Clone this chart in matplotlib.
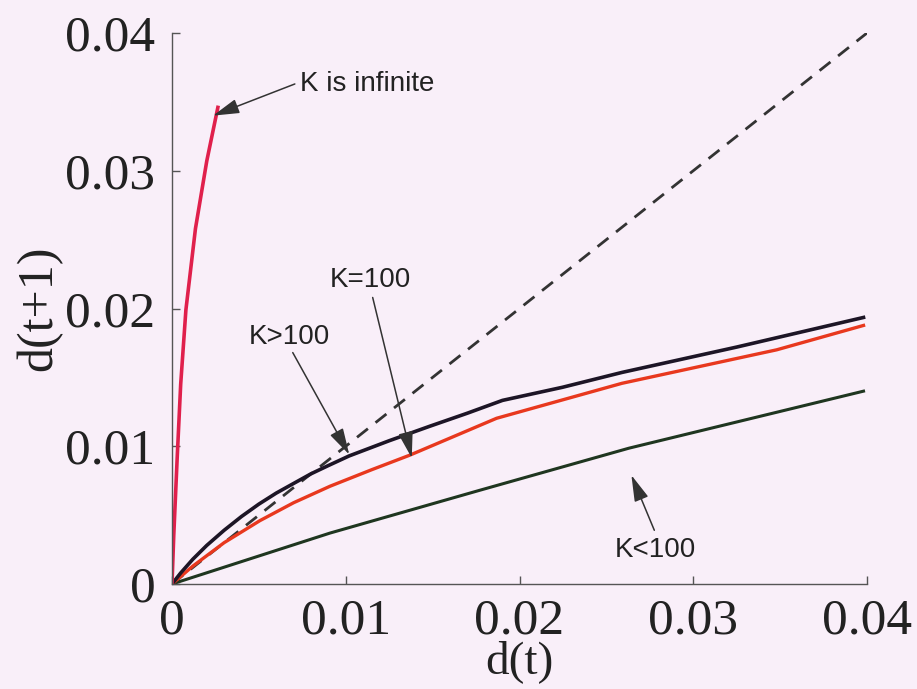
import matplotlib
matplotlib.use("Agg")
import matplotlib.pyplot as plt

# curves (d(t) -> d(t+1))
k_inf_x = [0, 0.0001, 0.0003, 0.0005, 0.0008, 0.00135, 0.002, 0.00264]
k_inf_y = [0, 0.0035, 0.0092, 0.0145, 0.0199, 0.0258, 0.0307, 0.0346]

k_gt_x = [0, 0.0005, 0.0012, 0.002, 0.003, 0.004, 0.005, 0.006, 0.007, 0.008, 0.009,
          0.0102, 0.0125, 0.01483, 0.0170, 0.01902, 0.02247, 0.0259, 0.0325, 0.0398]
k_gt_y = [0, 0.0008, 0.0018, 0.0028, 0.0039, 0.0049, 0.0058, 0.0066, 0.0073, 0.0080, 0.0086,
          0.0093, 0.0104, 0.01145, 0.0124, 0.01333, 0.01428, 0.01536, 0.0172, 0.01935]

k_eq_x = [0, 0.0012, 0.003, 0.00506, 0.007, 0.0091, 0.0115, 0.01368, 0.0162, 0.01868, 0.0259, 0.0348, 0.0398]
k_eq_y = [0, 0.0013, 0.0030, 0.0046, 0.0059, 0.00710, 0.0083, 0.00935, 0.0107, 0.01203, 0.01457, 0.0170, 0.01877]

k_lt_x = [0, 0.0091, 0.0177, 0.0263, 0.0398]
k_lt_y = [0, 0.0037, 0.0068, 0.00986, 0.0140]

diag = [0, 0.04]

ticks = [0, 0.01, 0.02, 0.03, 0.04]
tick_labels = ["0", "0.01", "0.02", "0.03", "0.04"]

# label text, text position, arrow tail, arrow head
labels = [
    ("K is infinite", (0.00736, 0.0363), (0.00707, 0.0363), (0.00236, 0.0340)),
    ("K=100", (0.01144, 0.0221), (0.01155, 0.0208), (0.0138, 0.00915)),
    ("K>100", (0.00678, 0.0179), (0.00695, 0.0168), (0.0102, 0.0094)),
    ("K<100", (0.0278, 0.00247), (0.02776, 0.0039), (0.02644, 0.0079)),
]

bg = "#f9eff9"
fig = plt.figure(figsize=(9.17, 6.89), dpi=100, facecolor=bg)
ax = fig.add_axes([172 / 917, 105 / 689, 695 / 917, 551 / 689])
ax.set_facecolor(bg)

ax.plot(diag, diag, color="#333333", lw=2.0, dashes=(5, 3.5))
ax.plot(k_lt_x, k_lt_y, color="#1f3620", lw=2.2)
ax.plot(k_eq_x, k_eq_y, color="#e8381e", lw=2.4)
ax.plot(k_gt_x, k_gt_y, color="#1d1526", lw=2.6)
ax.plot(k_inf_x, k_inf_y, color="#e0204c", lw=2.6)

ax.set_xlim(0, 0.04)
ax.set_ylim(0, 0.04)
for s in ["top", "right"]:
    ax.spines[s].set_visible(False)
for s in ["left", "bottom"]:
    ax.spines[s].set_color("#555555")
    ax.spines[s].set_linewidth(1.0)

serif = "Liberation Serif"
ax.set_xticks(ticks)
ax.set_yticks(ticks)
ax.set_xticklabels(tick_labels, fontfamily=serif, fontsize=37)
ax.set_yticklabels(tick_labels, fontfamily=serif, fontsize=37)
ax.tick_params(direction="in", length=6, width=1, color="#555555", labelcolor="#222222")
ax.tick_params(axis="x", pad=10)
ax.tick_params(axis="y", pad=12)

ax.set_xlabel("d(t)", fontfamily=serif, fontsize=34, color="#222222", labelpad=-3)
ax.set_ylabel("d(t+1)", fontfamily=serif, fontsize=36, color="#222222", labelpad=2)

for text, pos, tail, head in labels:
    ax.text(pos[0], pos[1], text, fontfamily="Liberation Sans", fontsize=20,
            color="#222222", ha="left" if text == "K is infinite" else "center", va="center")
    ax.annotate("", xy=head, xytext=tail,
                arrowprops=dict(arrowstyle="-|>,head_length=0.9,head_width=0.25",
                                color="#333333", lw=1.1, mutation_scale=18,
                                shrinkA=0, shrinkB=0))

fig.savefig("out.png", dpi=100, facecolor=bg)
